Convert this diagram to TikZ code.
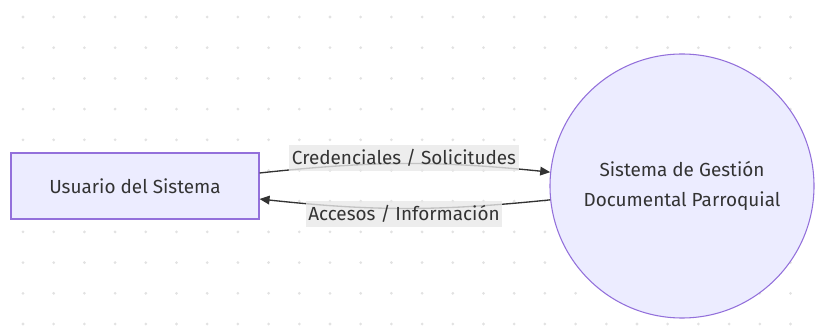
\documentclass[tikz,border=0pt]{standalone}
\usepackage{fontspec}
\setmainfont{Fira Sans}
\usetikzlibrary{arrows.meta}
\definecolor{nodefill}{HTML}{ECECFF}
\definecolor{nodeline}{HTML}{9370DB}
\definecolor{txt}{HTML}{333333}
\definecolor{griddot}{HTML}{E2E2E2}
\begin{document}
\begin{tikzpicture}[x=0.75pt,y=-0.75pt,
    entity/.style={draw=nodeline,fill=nodefill,line width=0.8pt,text=txt,
      font=\fontsize{14.2}{22.5}\selectfont},
    flow/.style={-{Triangle[length=7.5pt,width=6.5pt]},draw=txt,line width=1pt},
    flowlabel/.style={fill=black!9,fill opacity=0.8,text opacity=1,text=txt,
      inner xsep=2pt,minimum height=20pt,font=\fontsize{14.2}{16}\selectfont}]
\useasboundingbox (0,0) rectangle (817,331);
% dotted background
\foreach \i in {0,...,25}
  \foreach \j in {0,...,10}
    \fill[griddot] (23+30.7*\i,17+30.7*\j) circle (1.15pt);
% entities
\node[entity,minimum width=186pt,minimum height=49.5pt] (user) at (135,186) {Usuario del Sistema};
\node[entity,circle,minimum size=198pt,align=center] (sys) at (682,186) {Sistema de Gestión\\Documental Parroquial};
% flows
\draw[flow] ([yshift=9.75pt]user.east) to[bend left=6] (sys.174);
\draw[flow] (sys.186) to[bend left=6] ([yshift=-9.75pt]user.east);
\node[flowlabel] (cred) at (404,158) {Credenciales / Solicitudes};
\node[flowlabel] (acc) at (404,214) {Accesos / Información};
\end{tikzpicture}
\end{document}
